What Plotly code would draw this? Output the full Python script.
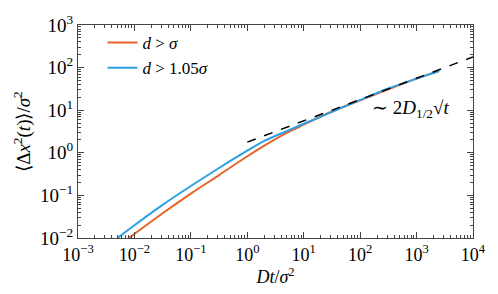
import plotly.graph_objects as go

# Data (Dt/sigma^2 , <dx^2>/sigma^2)
t_a = [0.008, 0.0316, 0.1, 0.316, 1, 2, 5, 10, 31.6, 100, 316, 1000, 2500]
msd_a = [0.010, 0.038, 0.11, 0.30, 0.83, 1.48, 2.95, 4.57, 9.3, 17.0, 30.9, 55, 83]

t_b = [0.005, 0.01, 0.0316, 0.1, 0.316, 1, 2, 5, 10, 31.6, 100, 316, 1000, 2500]
msd_b = [0.010, 0.020, 0.060, 0.166, 0.44, 1.12, 1.90, 3.24, 4.8, 9.1, 17.4, 32.4, 55, 83]

t_fit = [1, 10000]
msd_fit = [1.78, 178]

label_a = "<i>d</i> > <i>σ</i>"
label_b = "<i>d</i> > 1.05<i>σ</i>"
fit_label = "∼ 2<i>D</i><sub>1/2</sub>√<i>t</i>"

xtick_vals = [1e-3, 1e-2, 1e-1, 1, 10, 100, 1000, 10000]
xtick_text = ["10<sup>−3</sup>", "10<sup>−2</sup>", "10<sup>−1</sup>", "10<sup>0</sup>",
              "10<sup>1</sup>", "10<sup>2</sup>", "10<sup>3</sup>", "10<sup>4</sup>"]
ytick_vals = [1e-2, 1e-1, 1, 10, 100, 1000]
ytick_text = ["10<sup>−2</sup>", "10<sup>−1</sup>", "10<sup>0</sup>",
              "10<sup>1</sup>", "10<sup>2</sup>", "10<sup>3</sup>"]

def minor_vals(lo, hi):
    vals = []
    for e in range(lo, hi):
        for m in range(2, 10):
            vals.append(m * 10.0 ** e)
    return vals

ORANGE = "#e8642a"
BLUE = "#2ca0e2"
AXC = "#444444"
FONT = "Liberation Serif"

fig = go.Figure()
fig.add_trace(go.Scatter(x=t_a, y=msd_a, mode="lines", name=label_a,
                         line=dict(color=ORANGE, width=2, shape="spline", smoothing=0.8)))
fig.add_trace(go.Scatter(x=t_b, y=msd_b, mode="lines", name=label_b,
                         line=dict(color=BLUE, width=2, shape="spline", smoothing=0.8)))
fig.add_trace(go.Scatter(x=t_fit, y=msd_fit, mode="lines", showlegend=False,
                         line=dict(color="black", width=1.5, dash="dash")))

fig.add_annotation(x=2.9, y=1.04, xref="x", yref="y", text=fit_label, showarrow=False,
                   font=dict(family=FONT, size=19, color="black"))

axis_common = dict(type="log", showgrid=False, zeroline=False, showline=True,
                   linecolor=AXC, linewidth=1, mirror="ticks", ticks="inside",
                   ticklen=6, tickcolor=AXC, ticklabeloverflow="allow")

fig.update_xaxes(range=[-3, 4], tickvals=xtick_vals, ticktext=xtick_text,
                 tickfont=dict(family=FONT, size=18, color="black"),
                 minor=dict(tickvals=minor_vals(-3, 4), ticks="inside", ticklen=3, tickcolor=AXC),
                 title=dict(text="<i>Dt</i>/<i>σ</i><sup>2</sup>", font=dict(family=FONT, size=18, color="black"),
                            standoff=2),
                 **axis_common)
fig.update_yaxes(range=[-2, 3], tickvals=ytick_vals, ticktext=ytick_text,
                 tickfont=dict(family=FONT, size=19, color="black"),
                 minor=dict(tickvals=minor_vals(-2, 3), ticks="inside", ticklen=3, tickcolor=AXC),
                 title=dict(text="⟨Δ<i>x</i><sup>2</sup>(<i>t</i>)⟩/<i>σ</i><sup>2</sup>",
                            font=dict(family=FONT, size=19, color="black"), standoff=4),
                 **axis_common)

fig.update_layout(width=498, height=294, margin=dict(l=78, r=19, t=13, b=56),
                  paper_bgcolor="white", plot_bgcolor="white",
                  legend=dict(x=0.062, y=1.0, xanchor="left", yanchor="top",
                              bgcolor="rgba(0,0,0,0)", font=dict(family=FONT, size=17, color="black"),
                              itemwidth=30, tracegroupgap=0),
                  showlegend=True)

fig.write_html("out.html", config={"displayModeBar": False},
               post_script="document.body.style.margin='0px';")
